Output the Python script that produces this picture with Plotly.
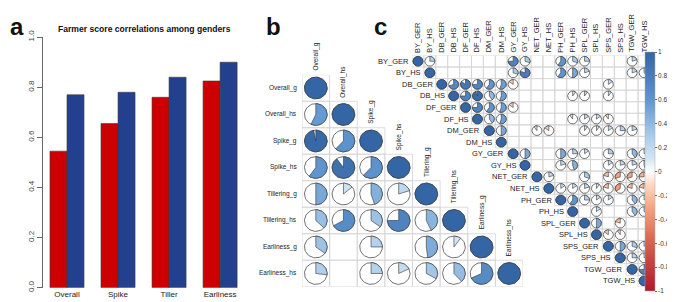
import numpy as np
import plotly.graph_objects as go

# ---------------- data ----------------
# panel a
a_categories = ["Overall", "Spike", "Tiller", "Earliness"]
a_red = [0.545, 0.655, 0.76, 0.825]
a_blue = [0.77, 0.78, 0.84, 0.90]
a_yticks = [0.0, 0.2, 0.4, 0.6, 0.8, 1.0]
a_title = "Farmer score correlations among genders"

# panel b (lower triangle incl. diagonal; None = not shown)
b_vars = ["Overall_g", "Overall_hs", "Spike_g", "Spike_hs",
          "Tillering_g", "Tillering_hs", "Earliness_g", "Earliness_hs"]
b_lower = [
    [1.0],
    [0.57, 1.0],
    [0.97, 0.62, 1.0],
    [0.60, 0.90, 0.62, 1.0],
    [0.50, 0.14, 0.45, 0.20, 1.0],
    [0.37, 0.67, 0.35, 0.75, 0.43, 1.0],
    [0.35, None, 0.25, None, 0.48, 0.10, 1.0],
    [0.27, None, 0.25, 0.18, 0.33, 0.38, 0.68, 1.0],
]

# panel c (upper triangle: row -> {column index: r})
c_vars = ["BY_GER", "BY_HS", "DB_GER", "DB_HS", "DF_GER", "DF_HS", "DM_GER",
          "DM_HS", "GY_GER", "GY_HS", "NET_GER", "NET_HS", "PH_GER", "PH_HS",
          "SPL_GER", "SPL_HS", "SPS_GER", "SPS_HS", "TGW_GER", "TGW_HS"]
c_upper = [
    {1: 0.25, 8: 0.75, 9: 0.3, 12: 0.6, 13: 0.3, 14: 0.25, 18: 0.2},
    {8: 0.3, 9: 0.8, 12: 0.6, 13: 0.5, 14: 0.2, 18: 0.2, 19: 0.35},
    {3: 0.7, 4: 0.85, 5: 0.75, 6: 0.6, 7: 0.55, 8: -0.15, 16: 0.15},
    {4: 0.75, 5: 0.95, 6: 0.4, 7: 0.55, 13: 0.1, 14: 0.1, 16: 0.1},
    {5: 0.75, 6: 0.6, 7: 0.55, 8: -0.15},
    {6: 0.4, 7: 0.55, 13: -0.1, 14: 0.15, 15: 0.15, 16: -0.1},
    {7: 0.5, 10: -0.1, 11: -0.15, 14: 0.1, 15: 0.1, 16: 0.15, 17: 0.25, 18: 0.2},
    {},
    {9: 0.5, 12: 0.5, 13: 0.25, 14: 0.15, 16: 0.25, 18: 0.4, 19: 0.2},
    {12: 0.2, 13: 0.45, 16: 0.15, 17: 0.2, 18: 0.2, 19: 0.45},
    {11: 0.2, 14: 0.3, 16: -0.2, 17: -0.3, 18: -0.3, 19: -0.25},
    {12: 0.15, 13: 0.15, 14: 0.2, 15: 0.1, 16: -0.2, 17: -0.35, 18: -0.2, 19: -0.2},
    {13: 0.6, 14: 0.25, 15: 0.15, 16: 0.15, 18: 0.4, 19: 0.15},
    {15: 0.15, 18: 0.4, 19: 0.35},
    {15: 0.5, 17: -0.2},
    {16: -0.15, 17: -0.1},
    {17: 0.5, 18: 0.3, 19: 0.2},
    {18: 0.25, 19: 0.2},
    {19: 0.75},
    {},
]
cb_ticks = [1, 0.8, 0.6, 0.4, 0.2, 0, -0.2, -0.4, -0.6, -0.8, -1]

# ---------------- styling ----------------
FONT = "Liberation Sans, Arial, sans-serif"
W, H = 675, 302
SCALE = [
    [0.0, "#B2182B"], [0.2, "#D6604D"], [0.35, "#F4A582"], [0.45, "#FDDBC7"],
    [0.5, "#FFFFFF"], [0.55, "#D6E6F4"], [0.65, "#A9CBEA"], [0.8, "#5F95CF"],
    [1.0, "#3465A4"],
]


def hex2rgb(h):
    h = h.lstrip("#")
    return tuple(int(h[i:i + 2], 16) for i in (0, 2, 4))


def val_color(r):
    t = (r + 1) / 2
    for (t0, c0), (t1, c1) in zip(SCALE[:-1], SCALE[1:]):
        if t0 <= t <= t1:
            f = 0 if t1 == t0 else (t - t0) / (t1 - t0)
            a, b = hex2rgb(c0), hex2rgb(c1)
            return "rgb(%d,%d,%d)" % tuple(round(a[k] + (b[k] - a[k]) * f) for k in range(3))
    return SCALE[-1][1]


fig = go.Figure()

# ---------------- panel a ----------------
fig.add_trace(go.Bar(x=a_categories, y=a_red, marker=dict(color="#CC0000", line=dict(color="#3a3a3a", width=0.6)),
                     xaxis="x", yaxis="y", showlegend=False, hoverinfo="skip"))
fig.add_trace(go.Bar(x=a_categories, y=a_blue, marker=dict(color="#22408E", line=dict(color="#3a3a3a", width=0.6)),
                     xaxis="x", yaxis="y", showlegend=False, hoverinfo="skip"))


# ---------------- corrplot helper ----------------
def add_corr(cells, xa, ya, R):
    # grid
    gx, gy = [], []
    for (i, j, _) in cells["grid"]:
        x0, x1, y0, y1 = j - 0.5, j + 0.5, i - 0.5, i + 0.5
        gx += [x0, x1, x1, x0, x0, None]
        gy += [y0, y0, y1, y1, y0, None]
    fig.add_trace(go.Scatter(x=gx, y=gy, mode="lines", line=dict(color="#D4D4D4", width=0.8),
                             xaxis=xa, yaxis=ya, showlegend=False, hoverinfo="skip"))
    # background circles
    th = np.linspace(0, 2 * np.pi, 61)
    cx, cy = [], []
    for (i, j, r) in cells["pies"]:
        cx += list(j + R * np.cos(th)) + [None]
        cy += list(i - R * np.sin(th)) + [None]
    fig.add_trace(go.Scatter(x=cx, y=cy, mode="lines", fill="toself", fillcolor="white",
                             line=dict(color="#333333", width=0.7),
                             xaxis=xa, yaxis=ya, showlegend=False, hoverinfo="skip"))
    # wedges
    for (i, j, r) in cells["pies"]:
        if abs(r) >= 0.999:
            ang = np.linspace(0, 2 * np.pi, 61)
            px = list(j + R * np.cos(ang))
            py = list(i - R * np.sin(ang))
        else:
            sgn = -1 if r > 0 else 1
            ang = np.pi / 2 + sgn * np.linspace(0, 2 * np.pi * abs(r), max(4, int(60 * abs(r)) + 2))
            px = [j] + list(j + R * np.cos(ang)) + [j]
            py = [i] + list(i - R * np.sin(ang)) + [i]
        fig.add_trace(go.Scatter(x=px, y=py, mode="lines", fill="toself", fillcolor=val_color(r),
                                 line=dict(color="#333333", width=0.6),
                                 xaxis=xa, yaxis=ya, showlegend=False, hoverinfo="skip"))


# panel b cells
b_cells = {"grid": [], "pies": []}
for i, row in enumerate(b_lower):
    for j, r in enumerate(row):
        b_cells["grid"].append((i, j, r))
        if r is not None:
            b_cells["pies"].append((i, j, r))
add_corr(b_cells, "x2", "y2", 0.41)

# panel c cells
n_c = len(c_vars)
c_cells = {"grid": [], "pies": []}
for i in range(n_c):
    for j in range(i, n_c):
        c_cells["grid"].append((i, j, None))
        if j == i:
            c_cells["pies"].append((i, j, 1.0))
        elif j in c_upper[i]:
            c_cells["pies"].append((i, j, c_upper[i][j]))
add_corr(c_cells, "x3", "y3", 0.42)

# colorbar (dummy trace)
fig.add_trace(go.Scatter(
    x=[0, 0], y=[0, 0], mode="markers", xaxis="x3", yaxis="y3", showlegend=False, hoverinfo="skip",
    marker=dict(size=0.1, opacity=0, color=[-1, 1], cmin=-1, cmax=1, colorscale=SCALE, showscale=True,
                colorbar=dict(x=637 / W, xanchor="left", xpad=0, ypad=0,
                              y=(H - 162.5) / H, yanchor="middle", len=239, lenmode="pixels",
                              thickness=10, thicknessmode="pixels", outlinewidth=0.5, outlinecolor="#aaaaaa",
                              tickvals=cb_ticks, ticktext=[("%g" % t) for t in cb_ticks],
                              ticks="outside", ticklen=2, tickcolor="#666",
                              tickfont=dict(size=6.5, color="#333", family=FONT))),
))

# ---------------- annotations ----------------
ann = []
for s, xp, yp in [("a", 9, 12), ("b", 265, 12), ("c", 372, 12)]:
    ann.append(dict(text="<b>%s</b>" % s, x=xp / W, y=1 - yp / H, xref="paper", yref="paper",
                    xanchor="center", yanchor="middle", showarrow=False,
                    font=dict(size=24, color="#111", family=FONT)))
ann.append(dict(text="<b>%s</b>" % a_title, x=136 / W, y=1 - 15 / H, xref="paper", yref="paper",
                xanchor="center", yanchor="middle", showarrow=False,
                font=dict(size=8.6, color="#111", family=FONT)))
for k, v in enumerate(b_vars):
    ann.append(dict(text=v, x=-0.5, y=k, xref="x2", yref="y2", xanchor="right", yanchor="middle",
                    xshift=-3, showarrow=False, font=dict(size=6.5, color="#222", family=FONT)))
    ann.append(dict(text=v, x=k, y=k - 0.5, xref="x2", yref="y2", xanchor="center", yanchor="bottom",
                    yshift=2, textangle=-90, showarrow=False, font=dict(size=6.5, color="#222", family=FONT)))
for k, v in enumerate(c_vars):
    ann.append(dict(text=v, x=k - 0.5, y=k, xref="x3", yref="y3", xanchor="right", yanchor="middle",
                    xshift=-1, showarrow=False, font=dict(size=7.5, color="#222", family=FONT)))
    ann.append(dict(text=v, x=k, y=-0.5, xref="x3", yref="y3", xanchor="center", yanchor="bottom",
                    yshift=1, textangle=-90, showarrow=False, font=dict(size=7.5, color="#222", family=FONT)))

hidden = dict(visible=False, showgrid=False, zeroline=False)
fig.update_layout(
    width=W, height=H, margin=dict(l=0, r=0, t=0, b=0),
    paper_bgcolor="white", plot_bgcolor="rgba(0,0,0,0)",
    barmode="group", bargap=0.333, bargroupgap=0,
    font=dict(family=FONT),
    annotations=ann,
    xaxis=dict(domain=[35 / W, 232 / W], range=[-0.47, 3.39], showgrid=False, zeroline=False,
               showline=False, ticks="", ticklen=0,
               tickfont=dict(size=8, color="#222", family=FONT), anchor="y"),
    yaxis=dict(domain=[19 / H, 279 / H], range=[0, 1], tickvals=a_yticks,
               ticktext=["%.1f" % t for t in a_yticks], tickangle=-90,
               showgrid=False, zeroline=False, showline=True, linecolor="#666", linewidth=1,
               ticks="outside", ticklen=5, tickcolor="#666",
               tickfont=dict(size=8, color="#444", family=FONT), anchor="x"),
    xaxis2=dict(domain=[294 / W, 515 / W], range=[-0.5, 7.5], anchor="y2", **hidden),
    yaxis2=dict(domain=[20 / H, 240 / H], range=[7.5, -0.5], anchor="x2", **hidden),
    xaxis3=dict(domain=[404 / W, 642 / W], range=[-0.5, 19.5], anchor="y3", **hidden),
    yaxis3=dict(domain=[20 / H, 260 / H], range=[19.5, -0.5], anchor="x3", **hidden),
)

fig.write_html("out.html")
